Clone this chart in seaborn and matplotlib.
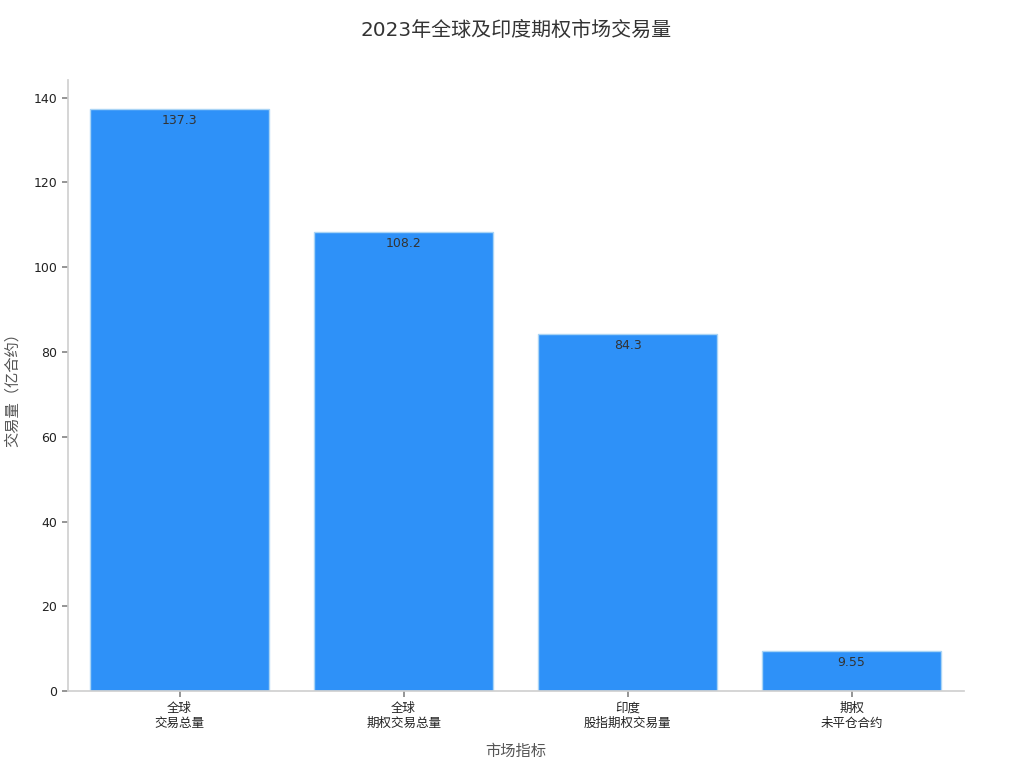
import matplotlib
matplotlib.use("Agg")
import matplotlib.pyplot as plt
import seaborn as sns
import pandas as pd

categories = ["全球\n交易总量", "全球\n期权交易总量", "印度\n股指期权交易量", "期权\n未平仓合约"]
values = [137.3, 108.2, 84.3, 9.55]
value_labels = ["137.3", "108.2", "84.3", "9.55"]

sns.set_theme(style="white")
plt.rcParams['font.family'] = ['DejaVu Sans', 'Noto Sans CJK SC']

df = pd.DataFrame({"指标": categories, "交易量": values})

fig, ax = plt.subplots(figsize=(10.24, 7.68), dpi=100)
sns.barplot(data=df, x="指标", y="交易量", color="#2E91F8", saturation=1,
            edgecolor="#A9D4F5", linewidth=1, width=0.8, ax=ax)

for i, (v, lab) in enumerate(zip(values, value_labels)):
    ax.text(i, v - 1.2, lab, ha="center", va="top", fontsize=9, color="#333333")

ax.set_xlim(-0.5, 3.5)
ax.set_ylim(0, max(values) * 1.05)
ax.set_title("2023年全球及印度期权市场交易量", fontsize=14.4, color="#333333", pad=32)
ax.set_xlabel("市场指标", fontsize=11, color="#555555", labelpad=10)
ax.set_ylabel("交易量（亿合约）", fontsize=11, color="#555555", labelpad=10)
ax.tick_params(axis="both", labelsize=9, colors="#222222", length=4, left=True, bottom=True)
ax.tick_params(axis="both", color="#888888")
sns.despine(ax=ax)
for s in ["left", "bottom"]:
    ax.spines[s].set_color("#D0D0D0")

plt.subplots_adjust(left=0.066, right=0.941, top=0.896, bottom=0.1)
plt.savefig("out.png", dpi=100)
